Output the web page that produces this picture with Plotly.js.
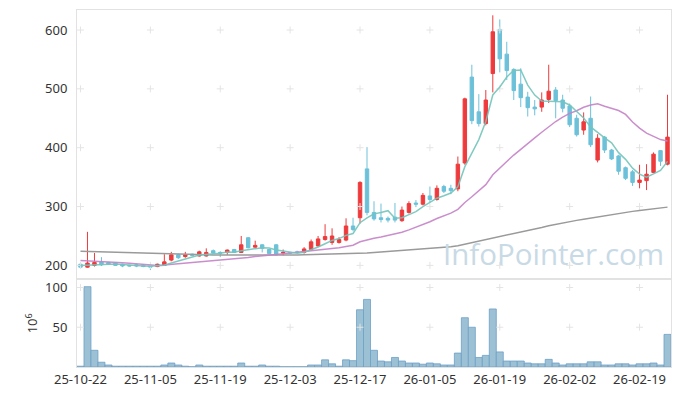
<!DOCTYPE html>
<html>
<head>
<meta charset="utf-8">
<script src="https://cdn.plot.ly/plotly-3.0.1.min.js"></script>
<style>html,body{margin:0;padding:0;background:#fff;}#chart{width:680px;height:396px;}</style>
</head>
<body>
<div id="chart"></div>
<script>
const dates = ["25-10-22","25-10-23","25-10-24","25-10-27","25-10-28","25-10-29","25-10-30","25-10-31","25-11-03","25-11-04",
"25-11-05","25-11-06","25-11-07","25-11-10","25-11-11","25-11-12","25-11-13","25-11-14","25-11-17","25-11-18",
"25-11-19","25-11-20","25-11-21","25-11-24","25-11-25","25-11-26","25-11-27","25-11-28","25-12-01","25-12-02",
"25-12-03","25-12-04","25-12-05","25-12-08","25-12-09","25-12-10","25-12-11","25-12-12","25-12-15","25-12-16",
"25-12-17","25-12-18","25-12-19","25-12-22","25-12-23","25-12-24","25-12-26","25-12-29","25-12-30","26-01-02",
"26-01-05","26-01-06","26-01-07","26-01-08","26-01-09","26-01-12","26-01-13","26-01-14","26-01-15","26-01-16",
"26-01-19","26-01-20","26-01-21","26-01-22","26-01-23","26-01-26","26-01-27","26-01-28","26-01-29","26-01-30",
"26-02-02","26-02-03","26-02-04","26-02-05","26-02-06","26-02-09","26-02-10","26-02-11","26-02-12","26-02-13",
"26-02-19","26-02-20","26-02-23","26-02-24","26-02-25"];

const openP = [202,197,200,206,205,204,202,200,201,200, 200,198,200,209,218,215,219,216,216,225,
222,222,227,222,247,231,235,227,235,221, 222,223,222,227,233,244,239,239,243,267,
281,364,290,281,280,282,276,290,306,304, 318,312,334,331,330,374,520,461,441,526,
601,559,533,508,486,469,469,482,498,481, 471,450,430,450,379,418,396,386,366,359,
341,344,358,395,372];
const highP = [203,257,221,214,206,205,203,201,203,202, 201,203,219,223,220,223,220,225,229,227,
224,227,228,250,248,242,236,228,236,227, 223,225,231,244,250,270,263,248,280,281,
343,401,309,305,283,306,300,309,311,323, 334,336,337,337,385,485,541,491,498,625,
618,580,535,535,495,481,494,541,503,490, 475,456,460,487,423,420,398,388,368,362,
371,372,392,396,490];
const lowP = [195,196,198,199,201,199,197,198,197,197, 192,197,199,207,211,213,216,215,215,220,
214,218,221,221,229,230,222,219,217,217, 220,221,220,225,232,242,235,237,241,258,
271,285,276,273,273,273,274,288,299,302, 307,310,323,321,326,371,440,436,438,494,
528,515,481,469,453,455,461,476,450,460, 435,419,422,401,375,391,379,354,345,335,
331,328,357,369,370];
const closeP = [197,204,205,201,202,200,199,199,199,198, 197,202,206,218,213,218,217,223,222,221,
221,226,222,235,230,234,229,220,218,222, 221,222,228,240,245,249,250,244,267,261,
341,290,279,278,277,277,294,305,304,319, 312,331,326,327,372,483,446,441,481,597,
551,531,497,485,468,466,481,496,480,467, 439,422,444,405,416,396,381,360,348,341,
345,355,389,377,418];
// volume, in units of 10^6
const volume = [1,101,21,6,2.5,1,1,1,1,1, 1,1,2.5,5,2.5,1,0.3,2.5,1,1,
1,1,1,5,1,1,2.5,1,1,0.3, 0.3,0.3,0.3,2.5,2.5,9,4,1,9,8,
72,85,21,7.5,6.5,12,7.5,5,5,3.5, 5,4,2.5,2.5,17.5,62,50,12,14.6,73,
19,7.5,7.5,7.5,5,4,4,9.6,5,2.5, 4,4,4,6.5,6.5,2.5,2.5,4,4,2.5,
4,4,5,2.5,41];
const ma5 = [200,200.5,201,201.3,201.8,202.4,201.4,200.2,199.8,199, 198.4,199,200.4,204.2,207.2,211.4,214.4,217.8,218.6,220.2,
220.8,222.6,222.4,225,226.8,229.4,230,229.6,226.2,224.6, 222,220.6,222.2,226.6,231.2,236.8,242.4,245.6,251,254.2,
272.6,280.6,287.6,289.8,293,280.2,281,286.2,291.4,299.8, 306.8,314.2,318.4,323,333.6,367.8,390.8,413.8,444.6,489.6,
503.2,520.2,531.4,532.2,506.4,489.4,479.4,479.2,478.2,478, 472.6,460.8,450.4,435.4,425.2,416.6,408.4,391.6,380.2,365.2,
355,349.8,355.6,361.4,376.8];
const ma20 = [208.5,208,207.5,207,206,205.5,204.5,203.5,202.5,201.5, 200.5,200,200.5,201.5,202.5,203.5,204.5,205.5,206.3,207.1,
208.3,209.4,210.2,211.9,213.3,215,216.5,217.6,218.5,219.7, 220.9,221.9,223,224.1,225.7,227.3,228.9,230,232.2,234.2,
240.2,243.4,246.3,248.4,250.8,252.9,256.2,260.4,264.7,269.6, 274.1,279.6,284.5,288.8,295.2,306.9,316.7,326.5,337.2,354,
364.5,376.6,387.5,397.8,407.4,416.8,426.2,435.7,444.5,451.9, 458.3,462.8,468.7,472.6,474.8,470.5,467.2,463.2,456.5,443.7,
433.4,424.6,419.2,413.8,411.3];
const ma120 = [224,223.6,223.2,222.8,222.4,222,221.5,221,220.6,220.2, 219.8,219.4,219,218.8,218.6,218.4,218.2,218,217.9,217.8,
217.7,217.6,217.6,217.6,217.6,217.5,217.5,217.5,217.5,217.5, 217.6,217.8,218,218.3,218.6,218.8,219,219.2,219.4,219.6,
220.3,221,221.8,222.6,223.4,224.2,225,225.8,226.7,227.6, 228.6,229.6,230.6,231.6,233.5,236,239,241.5,244,247,
249.5,252,254.5,257,259.5,262,264.5,267.5,270,272.2, 274.4,276.5,278.5,280.5,282.6,284.8,287,289,290.4,291.8,
293.2,294.6,296,297.5,299];
const priceTicks = [200,300,400,500,600];
const volTicks = [50,100];
const xTickLabels = ["25-10-22","25-11-05","25-11-19","25-12-03","25-12-17","26-01-05","26-01-19","26-02-02","26-02-19"];

const font = {family:"Noto Sans, sans-serif", size:13, color:"#333"};
const gridCol = "#e4e4e4";

// '+' grid markers at tick intersections
const cx1=[],cy1=[],cx2=[],cy2=[];
xTickLabels.forEach(d=>{
  priceTicks.forEach(v=>{cx1.push(d);cy1.push(v);});
  volTicks.forEach(v=>{cx2.push(d);cy2.push(v);});
});
const crossMarker = {symbol:"cross-thin", size:5, line:{color:gridCol, width:1}, color:gridCol};

const traces = [
  {type:"scatter", mode:"markers", x:cx1, y:cy1, xaxis:"x", yaxis:"y", marker:crossMarker, hoverinfo:"skip"},
  {type:"scatter", mode:"markers", x:cx2, y:cy2, xaxis:"x", yaxis:"y2", marker:crossMarker, hoverinfo:"skip"},
  {type:"candlestick", x:dates, open:openP, high:highP, low:lowP, close:closeP, xaxis:"x", yaxis:"y",
   increasing:{line:{color:"#ee3a3c", width:1}, fillcolor:"#ee3a3c"},
   decreasing:{line:{color:"#6cc1d9", width:1}, fillcolor:"#6cc1d9"},
   whiskerwidth:0, hoverinfo:"skip"},
  {type:"bar", x:dates, y:volume, xaxis:"x", yaxis:"y2",
   marker:{color:"#9dc1d4", line:{color:"#6c9fc6", width:0.8}}, hoverinfo:"skip"},
  {type:"scatter", mode:"lines", x:dates, y:ma120, xaxis:"x", yaxis:"y", line:{color:"#9a9a9a", width:1.5}, hoverinfo:"skip"},
  {type:"scatter", mode:"lines", x:dates, y:ma20, xaxis:"x", yaxis:"y", line:{color:"rgba(196,130,198,0.9)", width:1.5}, hoverinfo:"skip"},
  {type:"scatter", mode:"lines", x:dates, y:ma5, xaxis:"x", yaxis:"y", line:{color:"rgba(115,196,186,0.9)", width:1.5}, hoverinfo:"skip"}
];

const layout = {
  width:680, height:396,
  margin:{l:77, r:9, t:10, b:29},
  paper_bgcolor:"#fff", plot_bgcolor:"#fff",
  showlegend:false, font:font, bargap:0,
  xaxis:{type:"category", categoryorder:"array", categoryarray:dates,
    anchor:"y2", range:[-0.5, dates.length-0.5],
    tickmode:"array", tickvals:xTickLabels, ticktext:xTickLabels, tickangle:0,
    showgrid:false, zeroline:false, ticks:"", showline:true, mirror:"all", linecolor:"#e2e2e2",
    rangeslider:{visible:false}, tickfont:font},
  yaxis:{domain:[0.25,1], range:[179,634], tickmode:"array", tickvals:priceTicks,
    showgrid:false, zeroline:false, ticks:"", ticklabelstandoff:6,
    showline:true, mirror:"all", linecolor:"#e2e2e2", tickfont:font},
  yaxis2:{domain:[0,0.245], range:[0,110], tickmode:"array", tickvals:volTicks,
    showgrid:false, zeroline:false, ticks:"", ticklabelstandoff:6,
    showline:true, mirror:"all", linecolor:"#e2e2e2", tickfont:font,
    title:{text:"10<sup>6</sup>", font:font, standoff:4}},
  annotations:[{text:"InfoPointer.com", xref:"paper", yref:"paper", x:0.803, y:0.318,
    xanchor:"center", yanchor:"middle",
    showarrow:false, font:{family:"Open Sans, sans-serif", size:29.5, color:"#c8dae5"}}]
};

Plotly.newPlot("chart", traces, layout, {displayModeBar:false, staticPlot:true});
</script>
</body>
</html>
